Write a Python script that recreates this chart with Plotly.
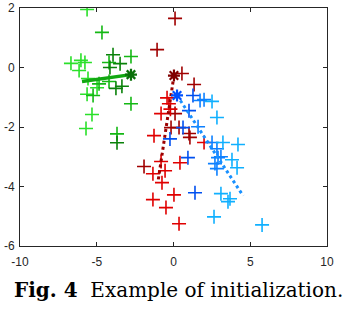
import plotly.graph_objects as go

# ---- data ----
green_light_x = [-5.63, -6.68, -6.03, -5.77, -6.15, -5.57, -4.98, -5.63, -5.31, -5.70]
green_light_y = [1.95, 0.14, 0.24, 0.17, -0.10, -0.37, -0.68, -0.90, -1.58, -2.05]
green_mid_x = [-4.66, -2.77, -4.20, -4.85, -4.20, -5.24, -2.77, -3.68]
green_mid_y = [1.18, 0.37, 0.17, -0.55, -0.47, -0.94, -1.22, -2.23]
green_dark_x = [-3.94, -3.48, -4.14, -3.75, -3.36, -3.68]
green_dark_y = [0.43, 0.13, 0.00, -0.70, -0.63, -2.53]
green_center = (-2.77, -0.24)
green_dir_end = (-5.96, -0.47)

red_dark_x = [0.10, -1.07, 0.55, 1.34, 0.10, -0.16, 0.36, 1.01, 1.07, -1.92]
red_dark_y = [1.65, 0.60, -0.20, -0.57, -1.55, -2.02, -2.02, -2.22, -2.35, -3.33]
red_light_x = [-0.42, -0.30, -0.20, -0.81, -1.27, 1.99, -0.81, 0.42, -1.34, -0.55,
               -0.75, 0.03, -1.34, -0.49, 0.36]
red_light_y = [-1.02, -1.22, -1.40, -1.55, -2.29, -2.52, -3.16, -3.20, -3.57, -3.47,
               -3.87, -4.28, -4.44, -4.71, -5.25]
red_center = (0.03, -0.27)
red_dir_end = (-1.00, -3.80)

blue_dark_x = [1.27, 1.01, 0.62, -0.23, 0.94, 1.40]
blue_dark_y = [-0.94, -1.45, -2.02, -2.40, -3.03, -4.21]
blue_mid_x = [1.73, 1.99, 1.60, 2.51, 2.83, 2.90, 2.70, 3.09, 2.83]
blue_mid_y = [-1.11, -1.08, -1.99, -2.52, -2.73, -3.03, -3.23, -3.00, -3.40]
blue_light_x = [2.51, 2.83, 3.22, 4.20, 3.81, 4.14, 3.09, 3.68, 3.55, 2.64, 5.77]
blue_light_y = [-1.14, -1.68, -2.52, -2.59, -3.10, -3.37, -4.24, -4.41, -4.51, -5.02, -5.29]
blue_center = (0.23, -0.94)
blue_dir_end = (4.53, -4.31)

x_ticks = [-10, -5, 0, 5, 10]
x_tick_labels = ["-10", "-5", "0", "5", "10"]
y_ticks = [-6, -4, -2, 0, 2]
y_tick_labels = ["-6", "-4", "-2", "0", "2"]

caption = "<b>Fig. 4</b>  Example of initialization."

fig = go.Figure()

def plus(x, y, color):
    fig.add_trace(go.Scatter(x=x, y=y, mode="markers", showlegend=False, hoverinfo="skip",
                             marker=dict(symbol="cross-thin", size=10,
                                         line=dict(color=color, width=1.6))))

def direction(start, end, color, dash, width):
    fig.add_trace(go.Scatter(x=[start[0], end[0]], y=[start[1], end[1]], mode="lines",
                             showlegend=False, hoverinfo="skip",
                             line=dict(color=color, dash=dash, width=width)))

def star(c, color):
    fig.add_trace(go.Scatter(x=[c[0]], y=[c[1]], mode="markers", showlegend=False,
                             hoverinfo="skip",
                             marker=dict(symbol="asterisk", size=10,
                                         line=dict(color=color, width=2.2))))

plus(green_light_x, green_light_y, "#2ae02a")
plus(green_mid_x, green_mid_y, "#14b814")
plus(green_dark_x, green_dark_y, "#0a820a")
plus(red_dark_x, red_dark_y, "#a00000")
plus(red_light_x, red_light_y, "#e00000")
plus(blue_dark_x, blue_dark_y, "#0050f0")
plus(blue_mid_x, blue_mid_y, "#0d80ff")
plus(blue_light_x, blue_light_y, "#10b0ff")

direction(green_center, green_dir_end, "#12a812", "solid", 3.5)
direction(red_center, red_dir_end, "#9c0000", "dot", 3)
direction(blue_center, blue_dir_end, "#1890ff", "dot", 3)

star(green_center, "#0a700a")
star(red_center, "#800000")
star(blue_center, "#0050ff")

axis_common = dict(showgrid=False, zeroline=False, showline=True, linecolor="#262626",
                   linewidth=1, mirror="ticks", ticks="inside", ticklen=4,
                   tickcolor="#262626", automargin=False,
                   tickfont=dict(family="Liberation Sans", size=12, color="#262626"))

plot_left, plot_right, plot_top, plot_bottom = 20, 327, 8, 246
fig.update_layout(
    width=348, height=312,
    margin=dict(l=plot_left, r=348 - plot_right, t=plot_top, b=312 - plot_bottom, pad=0),
    paper_bgcolor="white", plot_bgcolor="white",
    xaxis=dict(range=[-10, 10], tickvals=x_ticks, ticktext=x_tick_labels,
               ticklabelstandoff=5, **axis_common),
    yaxis=dict(range=[-6, 2], tickvals=y_ticks, ticktext=y_tick_labels,
               ticklabelstandoff=2, **axis_common),
    annotations=[dict(text=caption,
                      x=(178 - plot_left) / (plot_right - plot_left), xref="paper",
                      xanchor="center",
                      y=(plot_bottom - 290) / (plot_bottom - plot_top), yref="paper",
                      yanchor="middle", showarrow=False,
                      font=dict(family="DejaVu Serif", size=20, color="black"))],
)

fig.write_html("out.html", config={"displayModeBar": False},
               post_script="document.body.style.margin='0';document.body.style.overflow='hidden';")
